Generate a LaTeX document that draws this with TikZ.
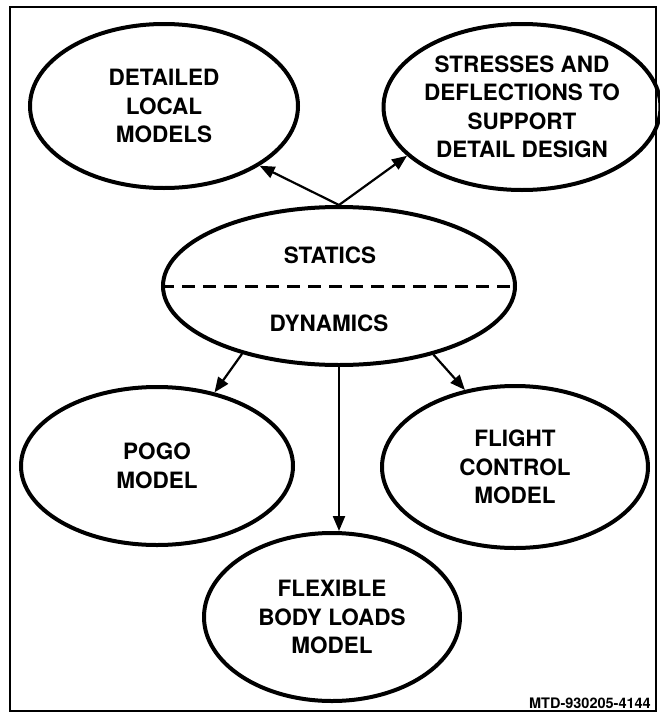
\documentclass[tikz,border=0pt]{standalone}
\usepackage{fontspec}
\setmainfont{TeX Gyre Heros}
\usetikzlibrary{arrows.meta, shapes.geometric}

\begin{document}
\begin{tikzpicture}[
  x=1pt, y=-1pt,
  font=\fontsize{22.5}{28.5}\selectfont\bfseries,
  oval/.style={ellipse, draw, line width=4pt, inner sep=0pt, align=center},
  lbl/.style={inner sep=0pt, align=center},
  arr/.style={-{Triangle[length=15pt, width=12pt]}, line width=2.2pt},
  divider/.style={line width=3pt, dash pattern=on 13pt off 8pt}
]
  \useasboundingbox (0,0) rectangle (659,715);
  \draw[line width=1.6pt] (10,7) rectangle (656,711);

  \node[oval, minimum width=268, minimum height=164] (local) at (164,106) {DETAILED\\LOCAL\\MODELS};
  \node[oval, minimum width=250, minimum height=166] (stress) at (522,107) {STRESSES AND\\DEFLECTIONS TO\\SUPPORT\\DETAIL DESIGN};
  \node[oval, minimum width=352, minimum height=158] (core) at (339,286) {};
  \node[lbl] (statics) at ([xshift=-9pt, yshift=31pt]core.center) {STATICS};
  \node[lbl] (dynamics) at ([xshift=-10pt, yshift=-37pt]core.center) {DYNAMICS};
  \node[oval, minimum width=272, minimum height=158] (pogo) at (157,466) {POGO\\MODEL};
  \node[oval, minimum width=266, minimum height=162] (flight) at (515,467) {FLIGHT\\CONTROL\\MODEL};
  \node[oval, minimum width=256, minimum height=168] (flex) at (332,617) {FLEXIBLE\\BODY LOADS\\MODEL};
  \node[lbl, anchor=base east, font=\fontsize{14.5}{16}\selectfont\bfseries] (tag) at (651,708) {MTD-930205-4144};

  \draw[divider] (core.west) -- (core.east);
  \draw[arr] (core.north) -- (local.328);
  \draw[arr] (core.north) -- (stress.203);
  \draw[arr] (core.215) -- (pogo.52);
  \draw[arr] (core.324) -- (flight.123);
  \draw[arr] (core.south) -- (core.south |- flex.north);
\end{tikzpicture}
\end{document}
